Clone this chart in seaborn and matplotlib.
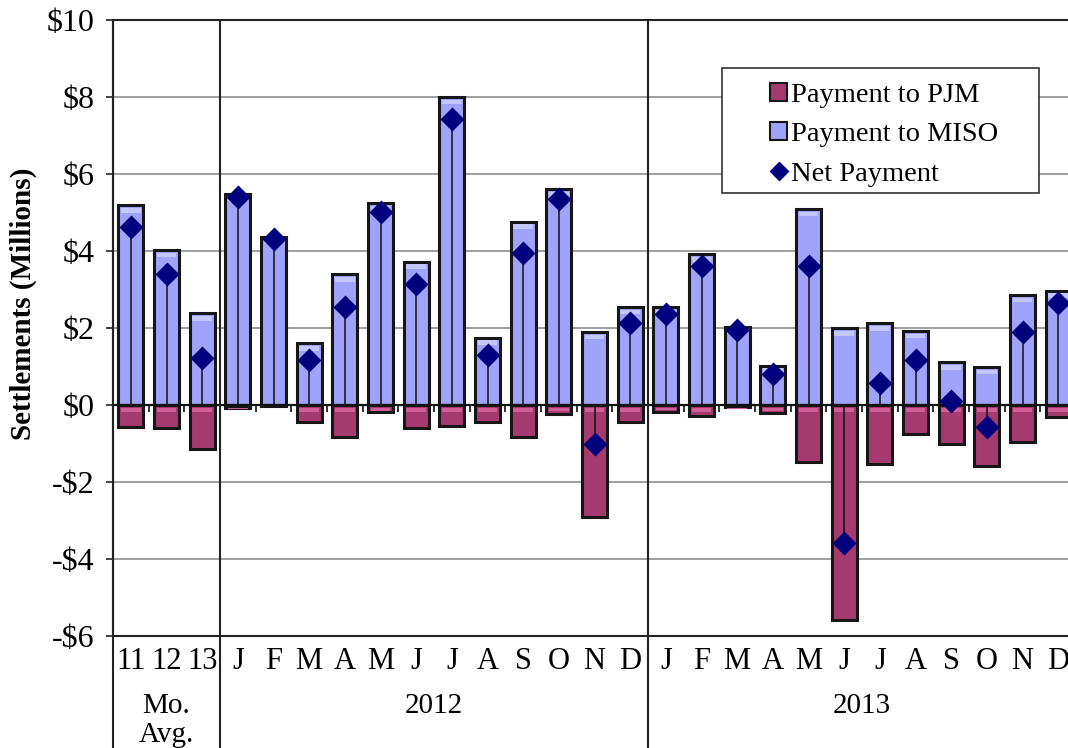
import numpy as np
import pandas as pd
import matplotlib.pyplot as plt
import seaborn as sns
from matplotlib.lines import Line2D
from matplotlib.patches import Patch, Rectangle

# category labels along the bottom (3 monthly averages, then 2012 and 2013 months)
cat_labels = ["11", "12", "13",
              "J", "F", "M", "A", "M", "J", "J", "A", "S", "O", "N", "D",
              "J", "F", "M", "A", "M", "J", "J", "A", "S", "O", "N", "D"]

# settlements in $ millions
pay_miso = [5.19, 4.03, 2.38,
            5.49, 4.37, 1.60, 3.39, 5.24, 3.72, 8.00, 1.75, 4.76, 5.60, 1.90, 2.55,
            2.55, 3.91, 2.03, 1.02, 5.09, 1.99, 2.12, 1.92, 1.11, 0.99, 2.86, 2.97]
pay_pjm = [-0.57, -0.61, -1.15,
           -0.07, -0.03, -0.43, -0.82, -0.19, -0.60, -0.54, -0.45, -0.82, -0.23, -2.90, -0.43,
           -0.17, -0.28, -0.06, -0.22, -1.47, -5.58, -1.52, -0.75, -1.00, -1.58, -0.95, -0.30]
net_pay = [4.62, 3.39, 1.21,
           5.41, 4.30, 1.17, 2.55, 5.02, 3.13, 7.43, 1.30, 3.94, 5.34, -1.00, 2.12,
           2.36, 3.62, 1.95, 0.80, 3.62, -3.58, 0.58, 1.17, 0.11, -0.58, 1.90, 2.64]

groups = ["Mo.\nAvg.", "2012", "2013"]
group_sizes = [3, 12, 12]

df = pd.DataFrame({"pos": np.arange(len(cat_labels)), "label": cat_labels,
                   "miso": pay_miso, "pjm": pay_pjm, "net": net_pay})

sns.set_theme(style="white")
plt.rcParams["font.family"] = ["Liberation Serif", "DejaVu Serif"]
for key in ["text.color", "axes.labelcolor", "xtick.color", "ytick.color"]:
    plt.rcParams[key] = "black"

miso_color = "#a0a3fc"
pjm_color = "#a53a6e"
net_color = "#00007f"
edge = "#161616"

fig = plt.figure(figsize=(10.68, 7.48), dpi=100)
ax = fig.add_axes([113 / 1068, 112 / 748, 963 / 1068, 616 / 748])

sns.barplot(data=df, x="pos", y="miso", color=miso_color, saturation=1, width=0.7,
            edgecolor=edge, linewidth=2.2, errorbar=None, ax=ax, zorder=3)
sns.barplot(data=df, x="pos", y="pjm", color=pjm_color, saturation=1, width=0.7,
            edgecolor=edge, linewidth=2.2, errorbar=None, ax=ax, zorder=3)

# light bevel strip along the top edge of each bar (excel-style look)
band = 0.12
miso_arr = np.array(pay_miso)
pjm_arr = np.array(pay_pjm)
ax.bar(df["pos"], np.minimum(band, miso_arr * 0.5), bottom=miso_arr - 0.07 - np.minimum(band, miso_arr * 0.5),
       width=0.56, color="#c4c6ff", lw=0, zorder=3.5)
ax.bar(df["pos"], -np.minimum(band, -pjm_arr * 0.4), bottom=-0.07,
       width=0.56, color="#cf5f96", lw=0, zorder=3.5)

# stems from zero to the net value, then the diamonds
ax.vlines(df["pos"], 0, df["net"], color="#111111", lw=1.1, zorder=4)
sns.scatterplot(data=df, x="pos", y="net", marker="D", s=150, color=net_color,
                edgecolor=net_color, linewidth=0, ax=ax, zorder=5, legend=False)

ax.axhline(0, color="#111111", lw=1.6, zorder=4)
bounds = np.arange(len(cat_labels) + 1) - 0.5
ax.vlines(bounds[1:-1], -0.17, 0, color="#111111", lw=1.2, zorder=4)

ax.set_ylim(-6, 10)
ax.set_xlim(-0.5, len(cat_labels) - 0.5)
ax.set_yticks(np.arange(-6, 11, 2))
ax.set_yticklabels([f"-${abs(v)}" if v < 0 else f"${v}" for v in range(-6, 11, 2)],
                   fontsize=23)
ax.yaxis.grid(True, color="#8f8f8f", lw=1.2, zorder=0)
ax.xaxis.grid(False)
ax.set_axisbelow(True)

ax.set_xticks(df["pos"])
ax.set_xticklabels(cat_labels, fontsize=22)
ax.set_xticks(bounds, minor=True)
ax.tick_params(axis="x", which="major", length=0, pad=8)
ax.tick_params(axis="x", which="minor", length=29, width=1.2, color="#222222", direction="out")
ax.tick_params(axis="y", length=5, width=1.2, color="#222222", direction="out", pad=8, left=True)
ax.set_xlabel("")
ax.set_ylabel("Settlements (Millions)", fontsize=21, fontweight="bold")
ax.yaxis.set_label_coords(-0.079, 0.539)

for side in ["left", "bottom", "top", "right"]:
    ax.spines[side].set_color("#222222")
    ax.spines[side].set_linewidth(1.5)

# long separators between the groups, running down into the label area
start = -0.5
for name, size in zip(groups, group_sizes):
    ax.axvline(start, ymin=-0.2, ymax=1, color="#222222", lw=1.5, clip_on=False, zorder=6)
    mid = start + size / 2
    lines = name.split("\n")
    for i, line in enumerate(lines):
        ax.text(mid, -0.113 - 0.048 * i, line, transform=ax.get_xaxis_transform(),
                ha="center", va="center", fontsize=21, linespacing=1.0)
    start += size

# legend with its own frame
handles = [Patch(facecolor=pjm_color, edgecolor=edge, lw=1.5),
           Patch(facecolor=miso_color, edgecolor=edge, lw=1.5),
           Line2D([], [], marker="D", ls="none", color=net_color, markersize=9)]
leg = fig.legend(handles, ["Payment to PJM", "Payment to MISO", "Net Payment"],
                 loc="upper left", bbox_to_anchor=(770 / 1068, 1 - 83 / 748), frameon=False,
                 fontsize=20.5, handlelength=0.6, handleheight=0.6, handletextpad=0.15,
                 labelspacing=0.5, borderpad=0, borderaxespad=0)
leg.set_zorder(5)
fig.patches.append(Rectangle((722 / 1068, 1 - 193 / 748), 317 / 1068, 125 / 748,
                             transform=fig.transFigure, facecolor="white",
                             edgecolor="#333333", lw=1.2, zorder=2))
ax.set_zorder(1)

fig.savefig("out.png", dpi=100)
